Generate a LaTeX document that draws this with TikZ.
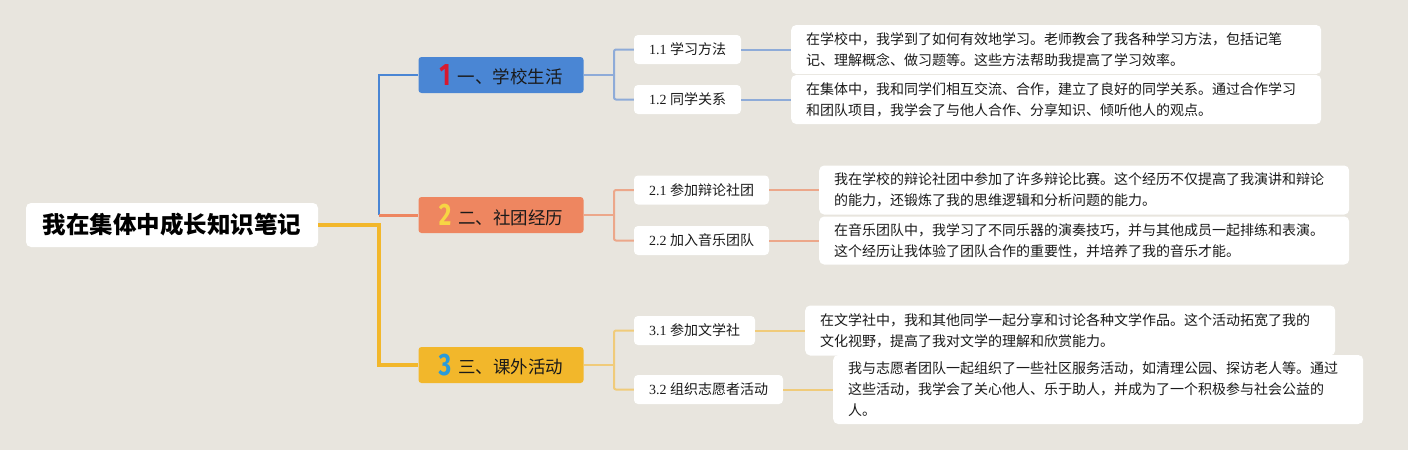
\documentclass[tikz,border=0pt]{standalone}
\usepackage{fontspec}
\setmainfont{Liberation Serif}
\newfontfamily\cjk{Noto Sans CJK SC}
\newfontfamily\numf{Fira Sans}
\definecolor{bgc}{HTML}{E8E5DE}
\definecolor{cblue}{HTML}{4A86D4}
\definecolor{corange}{HTML}{EE8660}
\definecolor{cyellow}{HTML}{F2B72B}
\definecolor{lblue}{HTML}{8EABD8}
\definecolor{lorange}{HTML}{ECA78A}
\definecolor{lyellow}{HTML}{F0CB7A}
\definecolor{nred}{HTML}{D7192F}
\definecolor{nyellow}{HTML}{F7D544}
\definecolor{nblue}{HTML}{2A9BDA}
\definecolor{txt}{HTML}{1A1A1A}
\newcommand{\bignum}[2]{\raisebox{-1.5pt}{\scalebox{0.78}[1]{\numf\bfseries\fontsize{31}{31}\selectfont\color{#1}#2}}}
\begin{document}
\begin{tikzpicture}[x=1pt,y=-1pt,
  rootbox/.style={fill=white, rounded corners=5pt, minimum width=292pt, minimum height=44pt, inner sep=0pt, text=black, font=\cjk\bfseries\fontsize{23.5}{28}\selectfont},
  lonebox/.style={rounded corners=3pt, minimum width=165pt, minimum height=36pt, inner sep=0pt, text=txt, font=\cjk\fontsize{17.5}{20}\selectfont},
  subbox/.style={fill=white, rounded corners=4pt, minimum height=29pt, inner sep=0pt, text=txt, font=\fontsize{14}{16}\selectfont},
  detbox/.style={fill=white, rounded corners=5pt, anchor=west, text width=500pt, inner xsep=15pt, inner ysep=0pt, align=left, text=txt, font=\cjk\fontsize{14}{21}\selectfont},
  lb/.style={draw=cblue, line width=2pt},
  lo/.style={draw=corange, line width=3pt},
  ly/.style={draw=cyellow, line width=4.5pt},
  sb/.style={draw=lblue, line width=2pt, rounded corners=2pt},
  so/.style={draw=lorange, line width=2pt, rounded corners=2pt},
  sy/.style={draw=lyellow, line width=2pt, rounded corners=2pt}
]
\fill[bgc] (0,0) rectangle (1408,450);
\useasboundingbox (0,0) rectangle (1408,450);

% root
\node[rootbox] (root) at (172,225) {我在集体中成长知识笔记};

% level 1
\node[lonebox, fill=cblue] (b1) at (501,75) {\bignum{nred}{1}\hspace{7pt}一、学校生活};
\node[lonebox, fill=corange] (b2) at (501,215) {\bignum{nyellow}{2}\hspace{7pt}二、社团经历};
\node[lonebox, fill=cyellow] (b3) at (501,365) {\bignum{nblue}{3}\hspace{7pt}三、课外活动};

% level 2
\node[subbox, minimum width=107pt] (s11) at (687.5,49.5) {1.1 {\cjk 学习方法}};
\node[subbox, minimum width=107pt] (s12) at (687.5,99.5) {1.2 {\cjk 同学关系}};
\node[subbox, minimum width=135pt] (s21) at (701.5,190) {2.1 {\cjk 参加辩论社团}};
\node[subbox, minimum width=135pt] (s22) at (701.5,240.5) {2.2 {\cjk 加入音乐团队}};
\node[subbox, minimum width=121pt] (s31) at (694.5,330.5) {3.1 {\cjk 参加文学社}};
\node[subbox, minimum width=149pt] (s32) at (708.5,389.5) {3.2 {\cjk 组织志愿者活动}};

% details
\node[detbox, minimum height=49pt] (d11) at (791,49.5) {在学校中，我学到了如何有效地学习。老师教会了我各种学习方法，包括记笔\\记、理解概念、做习题等。这些方法帮助我提高了学习效率。};
\node[detbox, minimum height=49pt] (d12) at (791,99.5) {在集体中，我和同学们相互交流、合作，建立了良好的同学关系。通过合作学习\\和团队项目，我学会了与他人合作、分享知识、倾听他人的观点。};
\node[detbox, minimum height=49pt] (d21) at (819,190) {我在学校的辩论社团中参加了许多辩论比赛。这个经历不仅提高了我演讲和辩论\\的能力，还锻炼了我的思维逻辑和分析问题的能力。};
\node[detbox, minimum height=48pt] (d22) at (819,240.5) {在音乐团队中，我学习了不同乐器的演奏技巧，并与其他成员一起排练和表演。\\这个经历让我体验了团队合作的重要性，并培养了我的音乐才能。};
\node[detbox, minimum height=50pt] (d31) at (805,330.5) {在文学社中，我和其他同学一起分享和讨论各种文学作品。这个活动拓宽了我的\\文化视野，提高了我对文学的理解和欣赏能力。};
\node[detbox, minimum height=69pt] (d32) at (833,389.5) {我与志愿者团队一起组织了一些社区服务活动，如清理公园、探访老人等。通过\\这些活动，我学会了关心他人、乐于助人，并成为了一个积极参与社会公益的\\人。};

% main connectors
\coordinate (hub) at (379,215);
\coordinate (hy) at (379,225);
\draw[lb] (hub) |- (b1.west);
\draw[lo] (hub) -- (b2.west);
\draw[ly] (root.east) -- (hy) |- (b3.west);

% branch connectors
\coordinate (k1) at (614,75);
\coordinate (k2) at (614,215);
\coordinate (k3) at (614,365);
\draw[sb] (b1.east) -- (k1);
\draw[sb] (k1) |- (s11.west);
\draw[sb] (k1) |- (s12.west);
\draw[so] (b2.east) -- (k2);
\draw[so] (k2) |- (s21.west);
\draw[so] (k2) |- (s22.west);
\draw[sy] (b3.east) -- (k3);
\draw[sy] (k3) |- (s31.west);
\draw[sy] (k3) |- (s32.west);

% detail connectors
\draw[sb] (s11.east) -- (d11.west);
\draw[sb] (s12.east) -- (d12.west);
\draw[so] (s21.east) -- (d21.west);
\draw[so] (s22.east) -- (d22.west);
\draw[sy] (s31.east) -- (d31.west);
\draw[sy] (s32.east) -- (d32.west);
\end{tikzpicture}
\end{document}
